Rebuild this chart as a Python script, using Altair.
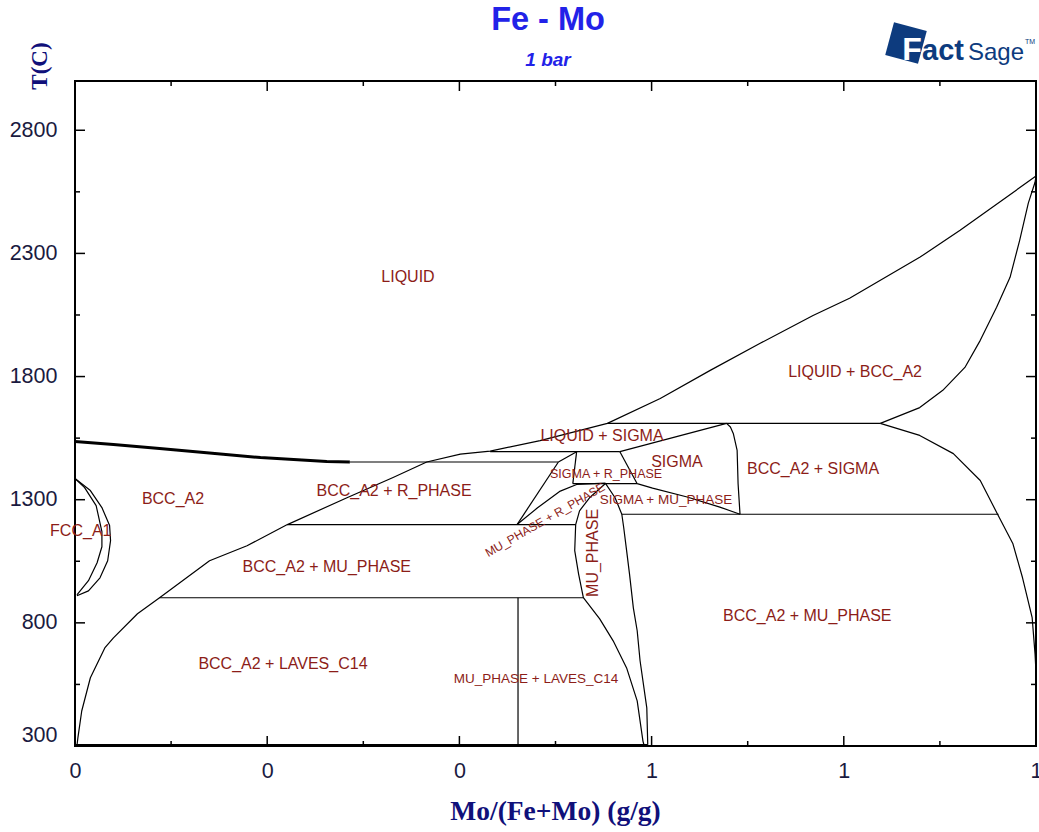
import altair as alt
import pandas as pd

# ---------------- phase boundaries: Mo mass fraction (x) vs T (°C) ----------------
fe_melt_x = [0.0, 0.040, 0.088, 0.137, 0.193, 0.262, 0.286]
fe_melt_t = [1536, 1524, 1508, 1491, 1471, 1455, 1453]

bcc_main_x = [0.002, 0.003, 0.007, 0.016, 0.031, 0.040, 0.065, 0.088, 0.140, 0.179, 0.221,
              0.283, 0.331, 0.366, 0.401, 0.432, 0.484, 0.554, 0.609, 0.661, 0.713, 0.768,
              0.806, 0.879, 0.921, 1.0]
bcc_main_t = [300, 333, 442, 577, 698, 739, 837, 902, 1052, 1113, 1199,
              1308, 1390, 1453, 1485, 1497, 1540, 1610, 1711, 1825, 1935, 2048,
              2118, 2284, 2394, 2614]

peritectic_x = [0.286, 0.503]
peritectic_t = [1453, 1453]

liq_sigma_x = [0.432, 0.567]
liq_sigma_t = [1495, 1495]

sigma_top_x = [0.567, 0.678]
sigma_top_t = [1495, 1610]

sigma_peri_x = [0.554, 0.838]
sigma_peri_t = [1610, 1610]

mo_solidus_x = [0.838, 0.879, 0.903, 0.926, 0.942, 0.959, 0.973, 0.983, 0.992, 0.999, 1.0]
mo_solidus_t = [1610, 1674, 1744, 1837, 1947, 2081, 2203, 2353, 2504, 2589, 2614]

mo_solvus_x = [0.838, 0.879, 0.914, 0.942, 0.960, 0.976, 0.986, 0.996, 0.999, 1.0, 1.0]
mo_solvus_t = [1610, 1561, 1487, 1378, 1241, 1121, 983, 821, 674, 600, 520]

sigma_right_x = [0.678, 0.682, 0.685, 0.689, 0.690, 0.692]
sigma_right_t = [1610, 1595, 1569, 1500, 1365, 1241]

sigma_eutectoid_x = [0.569, 0.961]
sigma_eutectoid_t = [1241, 1241]

sigma_low_x = [0.585, 0.601, 0.637, 0.671, 0.692]
sigma_low_t = [1365, 1347, 1311, 1270, 1241]

r_sigma_x = [0.518, 0.585]
r_sigma_t = [1365, 1365]

r_diag_x = [0.503, 0.522]
r_diag_t = [1453, 1495]

r_vert_x = [0.522, 0.518]
r_vert_t = [1495, 1365]

sr_right_x = [0.567, 0.585]
sr_right_t = [1495, 1365]

r_left_x = [0.503, 0.460]
r_left_t = [1453, 1199]

r_low_x = [0.460, 0.481, 0.505, 0.522, 0.552]
r_low_t = [1199, 1266, 1335, 1362, 1367]

r_eutectoid_x = [0.221, 0.521]
r_eutectoid_t = [1199, 1199]

mu_left_x = [0.552, 0.536, 0.525, 0.521, 0.520, 0.524, 0.529, 0.546, 0.560, 0.574, 0.585, 0.591, 0.592]
mu_left_t = [1366, 1310, 1255, 1199, 1093, 999, 902, 816, 727, 617, 483, 320, 305]

mu_right_x = [0.552, 0.562, 0.569, 0.571, 0.574, 0.577, 0.581, 0.585, 0.588, 0.595, 0.596]
mu_right_t = [1366, 1308, 1241, 1186, 1093, 999, 861, 768, 646, 455, 305]

laves_eutectoid_x = [0.088, 0.529]
laves_eutectoid_t = [902, 902]

laves_x = [0.461, 0.461]
laves_t = [902, 305]

bottom_x = [0.0, 0.596]
bottom_t = [306, 306]

fcc_outer_x = [0.0, 0.016, 0.028, 0.036, 0.037, 0.034, 0.026, 0.014, 0.002]
fcc_outer_t = [1386, 1337, 1268, 1195, 1134, 1052, 983, 930, 910]

fcc_inner_x = [0.0, 0.010, 0.022, 0.028, 0.028, 0.023, 0.014, 0.002]
fcc_inner_t = [1386, 1349, 1276, 1170, 1109, 1044, 971, 914]

# ---------------- phase-field labels ----------------
label_text = ["LIQUID", "LIQUID + BCC_A2", "LIQUID + SIGMA", "SIGMA", "BCC_A2 + SIGMA",
              "SIGMA + R_PHASE", "SIGMA + MU_PHASE", "BCC_A2", "BCC_A2 + R_PHASE", "FCC_A1",
              "MU_PHASE + R_PHASE", "MU_PHASE", "BCC_A2 + MU_PHASE", "BCC_A2 + MU_PHASE",
              "BCC_A2 + LAVES_C14", "MU_PHASE + LAVES_C14"]
label_x = [0.3465, 0.8117, 0.5484, 0.6264, 0.768, 0.5526, 0.615, 0.102, 0.332, 0.006,
           0.489, 0.539, 0.262, 0.762, 0.2164, 0.4797]
label_t = [2204, 1818, 1559, 1453, 1425, 1404, 1299, 1303, 1335, 1173,
           1218, 1084, 1027, 828, 633, 572]
label_size = [16, 16, 16, 16, 16, 12.5, 13.5, 16, 16, 16, 12, 16, 16, 16, 16, 13.5]
label_angle = [0, 0, 0, 0, 0, 0, 0, 0, 0, 0, 330, 270, 0, 0, 0, 0]

# ---------------- axis ticks ----------------
x_major = [0.0, 0.2, 0.4, 0.6, 0.8, 1.0]
x_minor = [0.1, 0.3, 0.5, 0.7, 0.9]
t_major = [300, 800, 1300, 1800, 2300, 2800]
t_minor = [550, 1050, 1550, 2050, 2550]

W, H = 961, 665
INK = "#1a1a40"
LABEL_RED = "#8c1d18"
NAVY = "#10107a"
LOGO = "#0d3b7e"

boundaries = [
    (fe_melt_x, fe_melt_t, 3.0),
    (bcc_main_x, bcc_main_t, 1.2),
    (peritectic_x, peritectic_t, 1.2),
    (liq_sigma_x, liq_sigma_t, 1.2),
    (sigma_top_x, sigma_top_t, 1.2),
    (sigma_peri_x, sigma_peri_t, 1.2),
    (mo_solidus_x, mo_solidus_t, 1.2),
    (mo_solvus_x, mo_solvus_t, 1.2),
    (sigma_right_x, sigma_right_t, 1.2),
    (sigma_eutectoid_x, sigma_eutectoid_t, 1.2),
    (sigma_low_x, sigma_low_t, 1.2),
    (r_sigma_x, r_sigma_t, 1.2),
    (r_diag_x, r_diag_t, 1.2),
    (r_vert_x, r_vert_t, 1.2),
    (sr_right_x, sr_right_t, 1.2),
    (r_left_x, r_left_t, 1.2),
    (r_low_x, r_low_t, 1.2),
    (r_eutectoid_x, r_eutectoid_t, 1.2),
    (mu_left_x, mu_left_t, 1.2),
    (mu_right_x, mu_right_t, 1.2),
    (laves_eutectoid_x, laves_eutectoid_t, 1.2),
    (laves_x, laves_t, 1.2),
    (bottom_x, bottom_t, 1.2),
    (fcc_outer_x, fcc_outer_t, 1.2),
    (fcc_inner_x, fcc_inner_t, 1.2),
]

rows = []
for seg, (xs, ts, w) in enumerate(boundaries):
    for i, (xv, tv) in enumerate(zip(xs, ts)):
        rows.append({"seg": seg, "i": i, "x": xv, "T": tv, "w": w})
lines_df = pd.DataFrame(rows)

labels_df = pd.DataFrame({"label": label_text, "x": label_x, "T": label_t,
                          "size": label_size, "angle": label_angle})

xs = alt.Scale(domain=[0, 1], nice=False, zero=False)
ys = alt.Scale(domain=[300, 3000], nice=False, zero=False)

x_axis = alt.Axis(values=x_major, format=".0f", labelFlush=False, ticks=False, tickSize=0,
                  domain=False, grid=False, title=None, labelFont="Liberation Sans",
                  labelFontSize=21.5, labelColor=INK, labelPadding=14)
y_axis = alt.Axis(values=t_major, format="d", labelFlush=True, ticks=False, tickSize=0,
                  domain=False, grid=False, title=None, labelFont="Liberation Sans",
                  labelFontSize=21.5, labelColor=INK, labelPadding=18)

lines = alt.Chart(lines_df).mark_line(color="black", strokeJoin="round").encode(
    x=alt.X("x:Q", scale=xs, axis=x_axis),
    y=alt.Y("T:Q", scale=ys, axis=y_axis),
    detail="seg:N",
    order="i:Q",
    strokeWidth=alt.StrokeWidth("w:Q", scale=None, legend=None),
)

labels = alt.Chart(labels_df).mark_text(font="Liberation Sans", color=LABEL_RED,
                                        align="center", baseline="middle").encode(
    x="x:Q", y="T:Q", text="label:N",
    size=alt.Size("size:Q", scale=None, legend=None),
    angle=alt.Angle("angle:Q", scale=None),
)


def tick_layer(values, field, length, side):
    df = pd.DataFrame({field: values})
    base = alt.Chart(df).mark_rule(color="black", strokeWidth=1.5)
    if side == "bottom":
        return base.encode(x=f"{field}:Q", y=alt.value(H), y2=alt.value(H - length))
    if side == "top":
        return base.encode(x=f"{field}:Q", y=alt.value(0), y2=alt.value(length))
    if side == "left":
        return base.encode(y=f"{field}:Q", x=alt.value(0), x2=alt.value(length))
    return base.encode(y=f"{field}:Q", x=alt.value(W), x2=alt.value(W - length))


ticks = [
    tick_layer(x_major, "x", 10, "bottom"), tick_layer(x_major, "x", 10, "top"),
    tick_layer(x_minor, "x", 5, "bottom"), tick_layer(x_minor, "x", 5, "top"),
    tick_layer(t_major, "T", 10, "left"), tick_layer(t_major, "T", 10, "right"),
    tick_layer(t_minor, "T", 5, "left"), tick_layer(t_minor, "T", 5, "right"),
]

one = pd.DataFrame({"k": [0]})


def pixel_text(text, px, py, **mark):
    return alt.Chart(one).mark_text(**mark).encode(
        x=alt.value(px), y=alt.value(py), text=alt.value(text))


title = pixel_text("Fe - Mo", 473, -61, font="Liberation Sans", fontSize=32.5,
                   fontWeight="bold", color="#2222e8", align="center", baseline="middle")
subtitle = pixel_text("1 bar", 473, -21, font="Liberation Sans", fontSize=19,
                      fontWeight="bold", fontStyle="italic", color="#2222e8",
                      align="center", baseline="middle")
y_title = pixel_text("T(C)", -35, -15, font="Liberation Serif", fontSize=23,
                     fontWeight="bold", color=NAVY, angle=270, align="center",
                     baseline="middle")
x_title = pixel_text("Mo/(Fe+Mo) (g/g)", 480.5, 731, font="Liberation Serif", fontSize=27.5,
                     fontWeight="bold", color=NAVY, align="center", baseline="middle")

# FactSage badge
logo_box = alt.Chart(one).mark_point(shape="square", filled=True, color=LOGO,
                                     size=1150, angle=15, opacity=1).encode(
    x=alt.value(831), y=alt.value(-38))
logo_f = pixel_text("F", 837, -21, font="Liberation Sans", fontSize=32, fontWeight="bold",
                    color="white", align="center", baseline="alphabetic")
logo_act = pixel_text("act", 847, -21, font="Liberation Sans", fontSize=29,
                      fontWeight="bold", color=LOGO, align="left",
                      baseline="alphabetic")
logo_sage = pixel_text("Sage", 893, -21, font="Liberation Sans", fontSize=24,
                       color=LOGO, align="left", baseline="alphabetic")
logo_tm = pixel_text("TM", 950, -37, font="Liberation Sans", fontSize=7,
                     color=LOGO, align="left", baseline="alphabetic")

chart = alt.layer(
    lines, labels, *ticks, title, subtitle, y_title, x_title,
    logo_box, logo_f, logo_act, logo_sage, logo_tm,
).properties(
    width=W, height=H,
    autosize=alt.AutoSizeParams(type="none"),
    padding={"left": 75, "top": 81, "right": 3, "bottom": 86},
    background="white",
).configure_view(stroke="black", strokeWidth=2)

chart.save("out.html", embed_options={"renderer": "svg", "actions": False})
